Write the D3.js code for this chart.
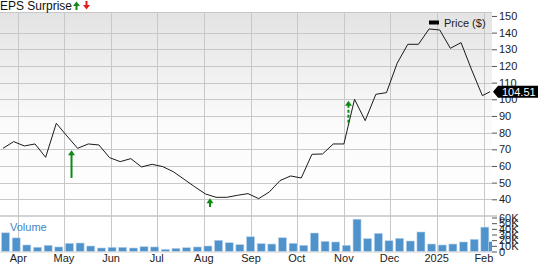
<!DOCTYPE html>
<html>
<head>
<meta charset="utf-8">
<script src="https://cdn.jsdelivr.net/npm/d3@7"></script>
<style>
  body { margin: 0; background: #fff; }
  svg { display: block; font-family: Arial, "Liberation Sans", sans-serif; }
</style>
</head>
<body>
<div id="chart"></div>
<script>
// weekly closing dates (Fridays) plus the last trading day
var weekDates = ["2024-03-22","2024-03-29","2024-04-05","2024-04-12","2024-04-19","2024-04-26",
  "2024-05-03","2024-05-10","2024-05-17","2024-05-24","2024-05-31","2024-06-07","2024-06-14",
  "2024-06-21","2024-06-28","2024-07-05","2024-07-12","2024-07-19","2024-07-26","2024-08-02",
  "2024-08-09","2024-08-16","2024-08-23","2024-08-30","2024-09-06","2024-09-13","2024-09-20",
  "2024-09-27","2024-10-04","2024-10-11","2024-10-18","2024-10-25","2024-11-01","2024-11-08",
  "2024-11-15","2024-11-22","2024-11-29","2024-12-06","2024-12-13","2024-12-20","2024-12-27",
  "2025-01-03","2025-01-10","2025-01-17","2025-01-24","2025-01-31","2025-02-05"];

var prices = [70.6,74.6,72,73.2,65.2,85.6,78,70.6,73.2,72.6,65,62.6,64.4,59.4,61,59.6,
  56.5,52,47.5,43.2,41.2,41.2,42.4,43.4,40.4,44.4,51.2,54,52.8,67,67.2,73.2,73.2,100,
  87.2,103,104,121.6,133,133,142.2,141.6,130.6,134,117.6,102.2,104.51];

// volume in thousands
var volumes = [33,24,11.5,7.5,11,8,14.5,15,9.7,6.2,7.4,7.4,6.2,8.5,8,3.9,5.6,6.7,8,9.7,
  19.8,15.5,12,26,13.8,13.2,24.3,14.5,11,32.6,18,16.8,11,57,22.6,32,19,23.3,18.5,34.4,
  13.2,11.5,13.2,16.8,21.5,43,17.3];

// EPS surprise arrows (all beats)
var epsDates = ["2024-05-06","2024-08-05","2024-11-04"];
var epsTip = [69.5, 40.6, 99.2];
var epsTail = [52.8, 35.4, 84.6];
var epsDashed = [false, false, true];

var priceTicks = [40,50,60,70,80,90,100,110,120,130,140,150];
var volumeTicks = [0,10,20,30,40,50,60];
var monthTicks = ["2024-04-01","2024-05-01","2024-06-01","2024-07-01","2024-08-01","2024-09-01",
  "2024-10-01","2024-11-01","2024-12-01","2025-01-01","2025-02-01"];
var monthLabels = ["Apr","May","Jun","Jul","Aug","Sep","Oct","Nov","Dec","2025","Feb"];

var lastPrice = "104.51";

var svgWidth = 538;
var svgHeight = 264;
var plotRight = 492;
var plotTop = 12.5;
var splitY = 216;
var volBottom = 251.5;

var parse = d3.timeParse("%Y-%m-%d");

var data = weekDates.map(function(d, i) {
  return { date: parse(d), price: prices[i], volume: volumes[i] };
});

var svg = d3.select("#chart")
  .append("svg")
  .attr("width", svgWidth)
  .attr("height", svgHeight);

// scales
var xScale = d3.scaleTime()
  .domain([parse("2024-03-20"), parse("2025-02-07")])
  .range([0, 493]);

var yScale = d3.scaleLinear()
  .domain([40, 100])
  .range([199.3, 99.3]);

var vScale = d3.scaleLinear()
  .domain([0, 60])
  .range([volBottom, 217.5]);

// background gradient of the price panel
var defs = svg.append("defs");
var grad = defs.append("linearGradient")
  .attr("id", "bg")
  .attr("x1", 0).attr("y1", 0).attr("x2", 0).attr("y2", 1);
grad.append("stop").attr("offset", "0%").attr("stop-color", "#e3e3e3");
grad.append("stop").attr("offset", "55%").attr("stop-color", "#fbfbfb");
grad.append("stop").attr("offset", "100%").attr("stop-color", "#ffffff");

defs.append("clipPath")
  .attr("id", "clip")
  .append("rect")
  .attr("x", 0).attr("y", 0)
  .attr("width", plotRight).attr("height", svgHeight);

svg.append("rect")
  .attr("x", 0)
  .attr("y", plotTop)
  .attr("width", plotRight)
  .attr("height", splitY - plotTop)
  .attr("fill", "url(#bg)");

// horizontal grid lines (price)
svg.append("g")
  .selectAll("line")
  .data(priceTicks.filter(function(t) { return t < 150; }))
  .enter()
  .append("line")
  .attr("x1", 0)
  .attr("x2", plotRight)
  .attr("y1", d => Math.round(yScale(d)) + 0.5)
  .attr("y2", d => Math.round(yScale(d)) + 0.5)
  .attr("stroke", "#c8c8c8");

// top border
svg.append("line")
  .attr("x1", 0).attr("x2", plotRight)
  .attr("y1", plotTop).attr("y2", plotTop)
  .attr("stroke", "#c8c8c8");

// vertical month grid lines
svg.append("g")
  .selectAll("line")
  .data(monthTicks)
  .enter()
  .append("line")
  .attr("x1", d => Math.round(xScale(parse(d))) + 0.5)
  .attr("x2", d => Math.round(xScale(parse(d))) + 0.5)
  .attr("y1", plotTop)
  .attr("y2", volBottom)
  .attr("stroke", "#c8c8c8");

// volume bars
svg.append("g")
  .attr("clip-path", "url(#clip)")
  .selectAll("rect")
  .data(data)
  .enter()
  .append("rect")
  .attr("x", d => xScale(d.date) - 1.5)
  .attr("y", d => vScale(d.volume))
  .attr("width", 8)
  .attr("height", d => volBottom - vScale(d.volume))
  .attr("fill", "#4f93cd")
  .attr("stroke", "#b9d3ea")
  .attr("stroke-width", 0.6);

// separator between price and volume panels
svg.append("line")
  .attr("x1", 0).attr("x2", 497)
  .attr("y1", splitY).attr("y2", splitY)
  .attr("stroke", "#c4c4c4")
  .attr("stroke-width", 1.5);

svg.append("line")
  .attr("x1", 0).attr("x2", plotRight)
  .attr("y1", volBottom + 0.5).attr("y2", volBottom + 0.5)
  .attr("stroke", "#d0d0d0");

// price line
var line = d3.line()
  .x(d => xScale(d.date))
  .y(d => yScale(d.price));

svg.append("path")
  .datum(data)
  .attr("d", line)
  .attr("fill", "none")
  .attr("stroke", "#1a1a1a")
  .attr("stroke-width", 1);

// EPS surprise arrows
var eps = epsDates.map(function(d, i) {
  return { date: parse(d), tip: epsTip[i], tail: epsTail[i], dashed: epsDashed[i] };
});

var epsGroup = svg.append("g");
eps.forEach(function(e) {
  var x = xScale(e.date);
  var yt = yScale(e.tip);
  epsGroup.append("line")
    .attr("x1", x).attr("x2", x)
    .attr("y1", yt + 4).attr("y2", yScale(e.tail))
    .attr("stroke", "#0e8a16")
    .attr("stroke-width", 2)
    .attr("stroke-dasharray", e.dashed ? "3,2" : null);
  epsGroup.append("path")
    .attr("d", `M${x},${yt} L${x + 3.5},${yt + 5} L${x - 3.5},${yt + 5} Z`)
    .attr("fill", "#0e8a16");
});

// right price axis
var priceAxis = svg.append("g")
  .attr("transform", `translate(${plotRight},0)`)
  .call(d3.axisRight(yScale).tickValues(priceTicks).tickSize(5).tickPadding(2));
priceAxis.select(".domain").remove();
priceAxis.selectAll("line").attr("stroke", "#555");
priceAxis.selectAll("text")
  .attr("fill", "#222")
  .style("font-size", "11px")
  .style("font-family", "Arial, 'Liberation Sans', sans-serif");

// right volume axis
var volAxis = svg.append("g")
  .attr("transform", `translate(${plotRight},0)`)
  .call(d3.axisRight(vScale).tickValues(volumeTicks).tickSize(5).tickPadding(2)
    .tickFormat(d => d === 0 ? "0" : d + "K"));
volAxis.select(".domain").remove();
volAxis.selectAll("line").attr("stroke", "#555");
volAxis.selectAll("text")
  .attr("fill", "#222")
  .style("font-size", "11px")
  .style("font-family", "Arial, 'Liberation Sans', sans-serif");

// bottom month labels
svg.append("g")
  .selectAll("text")
  .data(monthTicks)
  .enter()
  .append("text")
  .attr("x", d => xScale(parse(d)))
  .attr("y", 262)
  .attr("text-anchor", "middle")
  .attr("fill", "#222")
  .style("font-size", "11px")
  .text((d, i) => monthLabels[i]);

// last price tag
var ly = yScale(+lastPrice);
svg.append("path")
  .attr("d", `M${plotRight + 1},${ly} L${plotRight + 6},${ly - 6} L538,${ly - 6} L538,${ly + 6} L${plotRight + 6},${ly + 6} Z`)
  .attr("fill", "#000");
svg.append("text")
  .attr("x", 502)
  .attr("y", ly + 4)
  .attr("fill", "#fff")
  .style("font-size", "11px")
  .text(lastPrice);

// title with beat / miss markers
svg.append("text")
  .attr("x", 0)
  .attr("y", 10)
  .attr("fill", "#111")
  .style("font-size", "12px")
  .text("EPS Surprise");

svg.append("path")
  .attr("d", "M73,6 L76.5,1.5 L80,6 L77.5,6 L77.5,10 L75.5,10 L75.5,6 Z")
  .attr("fill", "#0e8a16");
svg.append("path")
  .attr("d", "M83,5 L86.5,9.5 L90,5 L87.5,5 L87.5,1 L85.5,1 L85.5,5 Z")
  .attr("fill", "#e21b1b");

// legend
svg.append("rect")
  .attr("x", 429).attr("y", 20.5)
  .attr("width", 10).attr("height", 4)
  .attr("fill", "#000");
svg.append("text")
  .attr("x", 444)
  .attr("y", 27)
  .attr("fill", "#222")
  .style("font-size", "11px")
  .text("Price ($)");

// volume label
svg.append("text")
  .attr("x", 10)
  .attr("y", 231)
  .attr("fill", "#3d86c6")
  .style("font-size", "11px")
  .text("Volume");
</script>
</body>
</html>
